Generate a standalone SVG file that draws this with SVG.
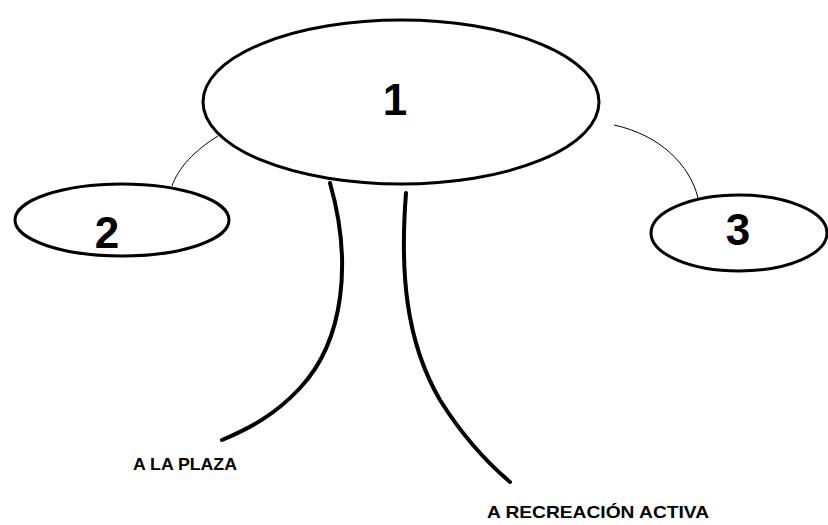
<svg xmlns="http://www.w3.org/2000/svg" width="828" height="525" viewBox="0 0 828 525">
<style>
.node{fill:#fff;stroke:#000;stroke-width:3}
.num{font-family:"Liberation Sans",Arial,sans-serif;font-weight:bold;font-size:44px;fill:#000;text-anchor:middle}
.thin{fill:none;stroke:#000;stroke-width:1}
.thick{fill:none;stroke:#000;stroke-width:4;stroke-linecap:round}
.lbl{font-family:"Liberation Sans",Arial,sans-serif;font-weight:bold;font-size:17px;fill:#000}
</style>
<rect width="828" height="525" fill="#fff"/>
<g id="connectors">
<path class="thin" d="M218,136 C195,150 178,168 172,186"/>
<path class="thin" d="M614,125 C660,135 690,165 698,198"/>
<path class="thick" d="M330,183 C352,260 345,340 300,388 C275,415 250,428 222,440"/>
<path class="thick" d="M406,193 C400,270 405,340 440,400 C465,440 490,465 510,482"/>
</g>
<g id="node1">
<ellipse class="node" cx="401" cy="102" rx="198" ry="82"/>
<text class="num" x="395" y="115">1</text>
</g>
<g id="node2">
<ellipse class="node" cx="122" cy="220" rx="107" ry="36"/>
<text class="num" x="107" y="248">2</text>
</g>
<g id="node3">
<ellipse class="node" cx="739" cy="233" rx="88" ry="38"/>
<text class="num" x="738" y="245">3</text>
</g>
<g id="labels">
<text class="lbl" x="133" y="470" textLength="104" lengthAdjust="spacingAndGlyphs">A LA PLAZA</text>
<text class="lbl" x="487" y="518" textLength="222" lengthAdjust="spacingAndGlyphs">A RECREACIÓN ACTIVA</text>
</g>
</svg>
